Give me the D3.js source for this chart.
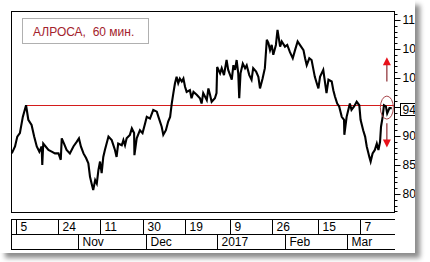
<!DOCTYPE html>
<html><head><meta charset="utf-8">
<script src="https://cdn.jsdelivr.net/npm/d3@7"></script>
<style>body{margin:0;background:#fff;}svg{display:block;font-family:Arial,"Liberation Sans",sans-serif;}</style>
</head><body><svg id="c" width="430" height="262"></svg>
<script>
// trading-session index (5 Oct 2016 = 0) and price
const sessions = [-1.3,-0.3,0.4,1.2,2.1,3.1,3.8,4.8,5.6,6.4,7.2,7.9,8.1,8.4,10.0,11.0,12.0,13.1,13.8,14.1,14.8,15.6,16.6,17.7,18.7,19.4,20.0,20.8,21.6,22.3,22.8,23.3,23.8,24.4,24.9,25.4,25.9,26.4,26.9,27.4,28.5,29.5,30.5,31.0,31.5,32.6,33.1,33.6,34.1,35.1,35.7,36.4,36.5,37.2,38.2,39.0,39.8,40.3,41.3,42.3,43.4,43.9,44.9,45.4,46.2,46.9,47.5,48.0,48.5,49.0,49.5,50.0,50.5,51.1,51.6,52.1,52.6,53.6,54.1,54.7,55.7,56.7,57.2,57.7,58.8,59.3,59.8,60.3,61.3,61.8,62.0,62.9,63.4,64.1,64.9,65.4,66.0,66.5,67.0,67.5,68.0,68.5,68.8,69.2,69.9,70.6,71.1,71.9,72.6,73.1,74.0,74.7,75.2,76.0,76.7,77.3,77.8,78.3,78.8,79.3,80.1,80.6,81.4,81.9,82.9,83.6,84.4,85.3,86.0,86.8,87.5,88.6,89.1,89.6,90.4,91.1,92.1,92.7,93.2,93.7,94.7,95.7,96.3,97.3,97.8,98.3,99.0,99.6,100.4,101.1,101.2,101.9,102.9,103.4,104.2,105.0,105.8,106.2,107.0,107.6,108.1,108.9,109.3,109.9,110.6,111.2,111.7,112.2,112.5,113.0,113.4,114.0,114.4,115.1,115.8];
const prices = [87.0,88.2,89.9,90.5,93.3,95.3,92.8,91.9,89.9,88.2,87.3,88.2,85.0,88.7,87.6,87.3,87.0,87.0,85.9,89.6,88.7,87.6,87.0,88.2,89.0,89.6,88.2,87.0,86.2,85.3,83.0,81.8,80.7,82.4,81.8,84.1,85.6,83.6,86.4,87.6,89.9,89.3,87.6,86.4,88.7,88.4,89.3,88.4,89.6,90.2,91.3,90.5,86.7,89.6,91.0,90.5,92.2,93.3,93.0,94.5,94.2,93.3,91.6,90.2,91.0,92.5,93.3,95.6,97.4,99.1,100.2,99.1,99.9,99.4,99.9,98.5,97.6,97.9,96.5,97.6,97.1,96.5,95.6,97.4,96.2,98.2,97.1,95.9,96.5,97.4,101.9,100.8,101.7,100.5,103.1,101.4,100.5,99.7,102.2,101.4,103.1,100.8,96.5,100.8,102.5,101.7,102.2,100.5,99.7,101.7,101.1,100.2,98.2,99.9,101.7,106.6,106.0,104.8,105.7,104.0,105.7,108.3,105.4,106.3,105.4,105.7,104.5,103.4,104.8,106.3,105.7,104.8,103.4,102.2,103.4,103.1,100.2,99.1,98.2,100.2,101.4,97.4,99.7,99.4,97.9,96.8,95.6,95.1,93.3,92.8,90.2,93.3,95.6,94.5,95.1,95.9,95.3,92.8,91.0,89.9,88.2,86.4,85.6,87.0,87.6,88.7,87.6,89.0,91.6,93.3,95.3,95.1,93.9,94.8,94.8];
const dayTicks = [0,13,26,39,52,66,79,93,106];
const dayLabels = ["5","24","11","30","19","9","26","15","7"];
const monthTicks = [19,40,62,83,102];
const monthLabels = ["Nov","Dec","2017","Feb","Mar"];
const priceTicks = [80,85,90,95,100,105,110];
const levelPrice = 95.3;
const lastPrice = 94.6;
const lastLabel = "94";
const title = "АЛРОСА,  60 мин.";

const svg = d3.select("#c");
const defs = svg.append("defs");
const f = defs.append("filter").attr("id","sh").attr("x","-5%").attr("y","-5%").attr("width","115%").attr("height","115%");
f.append("feDropShadow").attr("dx",5).attr("dy",5).attr("stdDeviation",2.5).attr("flood-color","#000").attr("flood-opacity",0.45);
defs.append("clipPath").attr("id","pc").append("rect").attr("x",0).attr("y",0).attr("width",415).attr("height",253);

svg.append("rect").attr("x",0).attr("y",0).attr("width",415).attr("height",253).attr("fill","#fff").attr("filter","url(#sh)");

const L=11,R=394,T=11,B=212;
const x = d3.scaleLinear().domain([-1.54,116.5]).range([L,R]);
const y = d3.scaleLinear().domain([76.9,111.55]).range([B,T]);

const g = svg.append("g").attr("clip-path","url(#pc)");

// plot frame
g.append("path").attr("d",`M${L},${B+0.5}H${R}M${L+0.5},${T}V${B}M${L},${T+0.5}H${R+0.5}`).attr("stroke","#000").attr("fill","none");

// right axis
const ax = d3.axisRight(y).tickValues(priceTicks).tickSize(6).tickPadding(3)
  .tickFormat(d => Math.abs(d-lastPrice) < 2.5 ? "" : d3.format("d")(d));
const axg = g.append("g").attr("transform",`translate(${R+0.5},0)`).call(ax);
axg.select(".domain").remove();
axg.append("line").attr("y1",T).attr("y2",B+1).attr("stroke","#000");
axg.selectAll(".tick text").attr("font-size",12).attr("fill","#000").attr("font-family","Arial,'Liberation Sans',sans-serif").attr("x",8);
axg.selectAll(".tick line").attr("stroke","#000");
const minor = d3.range(77,112).filter(v=>v%5!==0);
axg.selectAll(".mn").data(minor).enter().append("line").attr("x1",0).attr("x2",3)
  .attr("y1",d=>Math.round(y(d))+0.5).attr("y2",d=>Math.round(y(d))+0.5).attr("stroke","#000");

// level line
g.append("line").attr("x1",x(3.1)).attr("x2",R).attr("y1",Math.round(y(levelPrice))+0.5).attr("y2",Math.round(y(levelPrice))+0.5)
  .attr("stroke","#d41c1c").attr("stroke-width",1.1);

// price line
const pts = sessions.map((s,i)=>[s,prices[i]]);
g.append("path").datum(pts).attr("fill","none").attr("stroke","#000").attr("stroke-width",2.1).attr("stroke-linejoin","miter")
  .attr("d",d3.line().x(d=>x(d[0])).y(d=>y(d[1])));

// last price box
const by = y(lastPrice);
g.append("rect").attr("x",400.5).attr("y",Math.round(by-6)+0.5).attr("width",16).attr("height",12).attr("fill","#fff").attr("stroke","#000");
g.append("text").attr("x",402.5).attr("y",by+4.5).attr("font-size",12).text(lastLabel);

// ellipse marker and arrows
const cx = x(114.3);
g.append("ellipse").attr("cx",cx).attr("cy",y(94.9)).attr("rx",6.5).attr("ry",11.5).attr("fill","none").attr("stroke","#a8454a").attr("stroke-width",1);
g.append("line").attr("x1",cx).attr("x2",cx).attr("y1",y(99.4)).attr("y2",y(102.3)).attr("stroke","#8b2a30").attr("stroke-width",1.2);
g.append("path").attr("d",`M${cx},${y(102.2)-8}L${cx-4},${y(102.2)}L${cx+4},${y(102.2)}Z`).attr("fill","#e8101a");
g.append("line").attr("x1",cx).attr("x2",cx).attr("y1",y(92.2)).attr("y2",y(89.3)).attr("stroke","#8b2a30").attr("stroke-width",1.2);
g.append("path").attr("d",`M${cx},${y(89.4)+8}L${cx-4},${y(89.4)}L${cx+4},${y(89.4)}Z`).attr("fill","#e8101a");

// title box
g.append("rect").attr("x",22.5).attr("y",18.5).attr("width",126).attr("height",25).attr("fill","#fff").attr("stroke","#b0b0b0");
g.append("text").attr("x",33).attr("y",35.5).attr("font-size",12).attr("fill","#a3222c").attr("xml:space","preserve").style("white-space","pre").text(title);

// date strip
const s1=219.5,s2=234.5,s3=249.5;
g.append("path").attr("d",`M${L},${s1}H395M${L},${s2}H395M${L},${s3}H395M${L+0.5},${s1}V${s3}`).attr("stroke","#000").attr("fill","none");
dayTicks.forEach((t,i)=>{
  const xx=Math.round(x(t))+0.5;
  g.append("line").attr("x1",xx).attr("x2",xx).attr("y1",s1).attr("y2",s2).attr("stroke","#000");
  g.append("text").attr("x",xx+4).attr("y",231).attr("font-size",12).attr("fill","#000").text(dayLabels[i]);
});
monthTicks.forEach((t,i)=>{
  const xx=Math.round(x(t))+0.5;
  g.append("line").attr("x1",xx).attr("x2",xx).attr("y1",s2).attr("y2",s3).attr("stroke","#000");
  g.append("text").attr("x",xx+4).attr("y",246).attr("font-size",12).attr("fill","#000").text(monthLabels[i]);
});
</script></body></html>
